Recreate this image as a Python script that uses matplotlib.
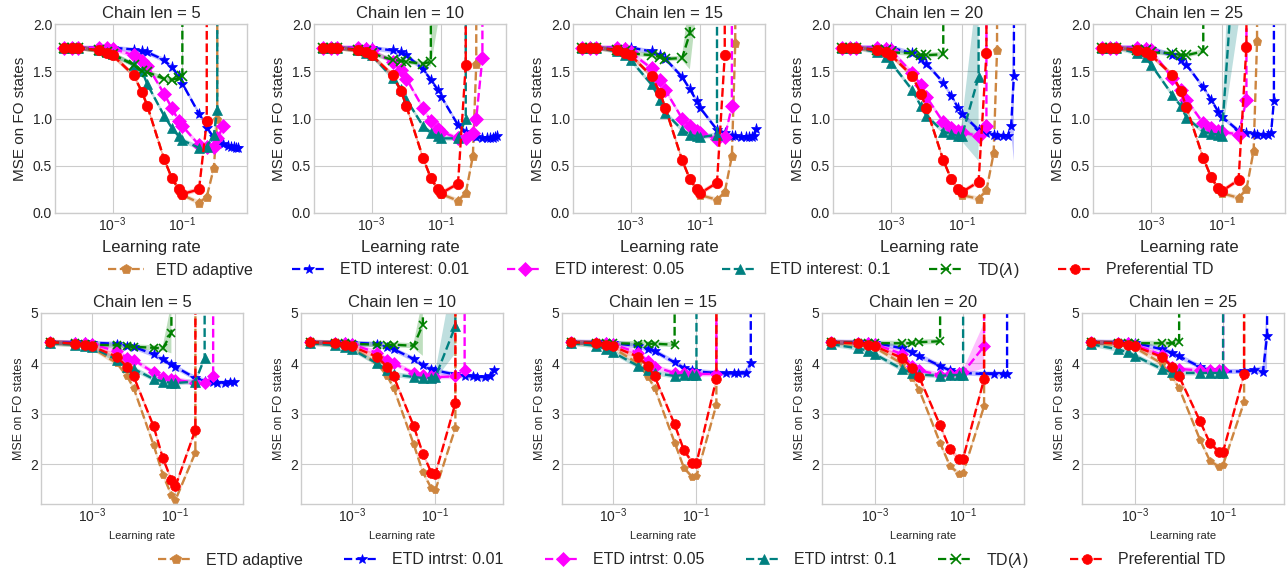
import matplotlib
matplotlib.use('Agg')
import matplotlib.pyplot as plt
from matplotlib.lines import Line2D

D = 1e3  # run diverged, value far above the plotted range

chain_lens = [5, 10, 15, 20, 25]

top_lr = [4e-5, 7e-5, 1e-4, 4e-4, 7e-4, 1e-3, 4e-3, 7e-3, 1e-2, 3e-2, 5e-2, 8e-2, 1e-1,
          3e-1, 5e-1, 8e-1, 1.0, 1.5, 2.0, 2.5, 3.0, 3.5, 4.0]
bottom_lr = [1e-4, 4e-4, 7e-4, 1e-3, 4e-3, 7e-3, 1e-2, 3e-2, 5e-2, 8e-2, 1e-1,
             3e-1, 5e-1, 8e-1, 1.0, 1.5, 2.0, 2.5]

# ---- top row: one list per chain length ----
top_adaptive = [
    [1.75, 1.75, 1.75, 1.72, 1.69, 1.67, 1.46, 1.28, 1.13, 0.57, 0.37, 0.24, 0.19, 0.11, 0.17, 0.48, 1.00, D],
    [1.75, 1.75, 1.75, 1.72, 1.70, 1.67, 1.46, 1.29, 1.13, 0.58, 0.37, 0.24, 0.20, 0.13, 0.21, 0.60, 1.58, D],
    [1.75, 1.75, 1.75, 1.72, 1.69, 1.67, 1.45, 1.27, 1.11, 0.56, 0.36, 0.24, 0.19, 0.14, 0.22, 0.60, 1.80, D],
    [1.75, 1.75, 1.75, 1.72, 1.70, 1.67, 1.45, 1.26, 1.11, 0.56, 0.36, 0.24, 0.19, 0.15, 0.24, 0.63, 1.73, D],
    [1.75, 1.75, 1.75, 1.72, 1.70, 1.67, 1.46, 1.29, 1.12, 0.58, 0.38, 0.25, 0.21, 0.16, 0.25, 0.66, 1.82, D],
]
top_int001 = [
    [1.75, 1.75, 1.75, 1.75, 1.75, 1.75, 1.73, 1.71, 1.70, 1.62, 1.54, 1.45, 1.37, 1.05, 0.90, 0.80, 0.76, 0.73, 0.71, 0.70, 0.70, 0.69, 0.69],
    [1.75, 1.75, 1.75, 1.75, 1.75, 1.75, 1.72, 1.70, 1.67, 1.52, 1.41, 1.30, 1.23, 0.93, 0.86, 0.82, 0.80, 0.79, 0.79, 0.79, 0.79, 0.80, 0.82],
    [1.75, 1.75, 1.75, 1.75, 1.75, 1.75, 1.71, 1.67, 1.63, 1.44, 1.31, 1.18, 1.11, 0.88, 0.85, 0.82, 0.81, 0.80, 0.80, 0.80, 0.80, 0.82, 0.89],
    [1.75, 1.75, 1.75, 1.75, 1.75, 1.75, 1.69, 1.63, 1.58, 1.38, 1.24, 1.11, 1.05, 0.88, 0.85, 0.83, 0.82, 0.82, 0.81, 0.92, 1.45, D],
    [1.75, 1.75, 1.75, 1.75, 1.75, 1.74, 1.67, 1.62, 1.57, 1.33, 1.20, 1.07, 1.02, 0.87, 0.85, 0.84, 0.83, 0.83, 0.83, 0.85, 1.19, D],
]
top_int005 = [
    [1.75, 1.75, 1.75, 1.75, 1.75, 1.74, 1.67, 1.61, 1.56, 1.26, 1.11, 0.97, 0.92, 0.72, 0.70, 0.70, 0.79, 0.92],
    [1.75, 1.75, 1.75, 1.75, 1.74, 1.72, 1.60, 1.51, 1.42, 1.11, 0.97, 0.89, 0.86, 0.79, 0.79, 0.85, 1.00, 1.64, D],
    [1.75, 1.75, 1.75, 1.75, 1.74, 1.70, 1.53, 1.41, 1.30, 1.00, 0.92, 0.87, 0.85, 0.78, 0.80, 1.13, D],
    [1.75, 1.75, 1.75, 1.75, 1.74, 1.72, 1.48, 1.35, 1.23, 0.96, 0.90, 0.87, 0.86, 0.81, 0.92, D],
    [1.75, 1.75, 1.75, 1.75, 1.74, 1.72, 1.43, 1.30, 1.20, 0.95, 0.90, 0.87, 0.86, 0.83, 1.20, D],
]
top_int01 = [
    [1.75, 1.75, 1.75, 1.72, 1.70, 1.68, 1.57, 1.50, 1.36, 1.03, 0.90, 0.81, 0.77, 0.69, 0.70, 0.83, 1.09, D],
    [1.75, 1.75, 1.75, 1.72, 1.69, 1.67, 1.43, 1.31, 1.20, 0.92, 0.85, 0.81, 0.79, 0.79, 1.00, D],
    [1.75, 1.75, 1.75, 1.71, 1.67, 1.62, 1.36, 1.20, 1.06, 0.88, 0.83, 0.81, 0.80, 0.83, D],
    [1.75, 1.75, 1.75, 1.70, 1.65, 1.59, 1.30, 1.13, 1.03, 0.86, 0.84, 0.81, 0.81, 1.44, D],
    [1.75, 1.75, 1.75, 1.69, 1.65, 1.57, 1.25, 1.13, 1.01, 0.86, 0.84, 0.83, 0.81, 3.40, D],
]
top_td = [
    [1.75, 1.75, 1.75, 1.72, 1.70, 1.68, 1.57, 1.50, 1.49, 1.42, 1.41, 1.43, 1.45, D],
    [1.75, 1.75, 1.75, 1.73, 1.71, 1.69, 1.62, 1.61, 1.60, 1.58, 1.60, D],
    [1.75, 1.75, 1.75, 1.73, 1.71, 1.69, 1.67, 1.65, 1.63, 1.64, 1.90, D],
    [1.75, 1.75, 1.75, 1.73, 1.72, 1.70, 1.69, 1.67, 1.67, 1.68, D],
    [1.75, 1.75, 1.75, 1.73, 1.72, 1.70, 1.69, 1.67, 1.67, 1.71, D],
]
top_pref = [
    [1.75, 1.75, 1.75, 1.72, 1.69, 1.67, 1.46, 1.28, 1.13, 0.57, 0.37, 0.25, 0.20, 0.25, 0.97, D],
    [1.75, 1.75, 1.75, 1.72, 1.70, 1.67, 1.46, 1.29, 1.13, 0.58, 0.37, 0.25, 0.21, 0.31, 1.57, D],
    [1.75, 1.75, 1.75, 1.72, 1.69, 1.67, 1.45, 1.27, 1.11, 0.56, 0.36, 0.25, 0.21, 0.32, 1.67, D],
    [1.75, 1.75, 1.75, 1.72, 1.70, 1.67, 1.45, 1.26, 1.11, 0.56, 0.36, 0.25, 0.22, 0.33, 1.69, D],
    [1.75, 1.75, 1.75, 1.72, 1.70, 1.67, 1.46, 1.29, 1.12, 0.58, 0.38, 0.26, 0.23, 0.35, 1.76, D],
]

# ---- bottom row ----
bottom_adaptive = [
    [4.40, 4.37, 4.35, 4.31, 4.00, 3.74, 3.51, 2.38, 1.79, 1.39, 1.29, 2.23, D],
    [4.40, 4.37, 4.35, 4.31, 4.00, 3.75, 3.51, 2.40, 1.84, 1.52, 1.49, 2.72, D],
    [4.40, 4.37, 4.35, 4.31, 4.00, 3.73, 3.51, 2.43, 1.93, 1.74, 1.76, 3.18, D],
    [4.40, 4.37, 4.35, 4.31, 4.00, 3.71, 3.48, 2.42, 1.97, 1.81, 1.83, 3.15, D],
    [4.40, 4.37, 4.35, 4.31, 4.00, 3.73, 3.51, 2.48, 2.07, 1.95, 1.99, 3.23, D],
]
bottom_int001 = [
    [4.42, 4.42, 4.42, 4.41, 4.39, 4.35, 4.33, 4.18, 4.08, 3.98, 3.93, 3.71, 3.66, 3.63, 3.62, 3.62, 3.63, 3.64],
    [4.42, 4.42, 4.42, 4.41, 4.39, 4.33, 4.28, 4.09, 3.97, 3.89, 3.86, 3.78, 3.75, 3.74, 3.73, 3.73, 3.75, 3.87],
    [4.42, 4.42, 4.42, 4.41, 4.34, 4.28, 4.24, 4.02, 3.91, 3.86, 3.84, 3.81, 3.80, 3.80, 3.80, 3.80, 4.00, D],
    [4.42, 4.42, 4.42, 4.41, 4.30, 4.22, 4.15, 3.95, 3.86, 3.82, 3.81, 3.79, 3.79, 3.79, 3.79, D],
    [4.42, 4.42, 4.42, 4.41, 4.28, 4.21, 4.14, 3.93, 3.86, 3.86, 3.84, 3.84, 3.86, 3.82, 4.54, D],
]
bottom_int005 = [
    [4.42, 4.41, 4.40, 4.38, 4.24, 4.11, 4.07, 3.82, 3.73, 3.69, 3.68, 3.61, 3.61, 3.74, D],
    [4.42, 4.41, 4.40, 4.38, 4.21, 4.07, 4.00, 3.81, 3.76, 3.74, 3.73, 3.74, 3.87, D],
    [4.42, 4.41, 4.40, 4.38, 4.21, 4.04, 3.93, 3.81, 3.80, 3.79, 3.79, 3.79, D],
    [4.42, 4.41, 4.40, 4.38, 4.19, 3.95, 3.86, 3.77, 3.79, 3.81, 3.82, 4.34, D],
    [4.42, 4.41, 4.40, 4.37, 4.17, 3.93, 3.89, 3.86, 3.86, 3.86, 3.86, D],
]
bottom_int01 = [
    [4.40, 4.37, 4.35, 4.32, 4.07, 3.93, 3.89, 3.69, 3.64, 3.61, 3.61, 3.64, 4.11, D],
    [4.40, 4.36, 4.32, 4.28, 4.00, 3.87, 3.78, 3.73, 3.71, 3.71, 3.73, 4.74, D],
    [4.40, 4.35, 4.28, 4.22, 3.95, 3.86, 3.81, 3.75, 3.77, 3.77, 3.77, D],
    [4.38, 4.30, 4.25, 4.18, 3.89, 3.81, 3.78, 3.75, 3.77, 3.77, 3.77, D],
    [4.38, 4.28, 4.22, 4.15, 3.89, 3.82, 3.81, 3.81, 3.81, 3.81, 3.81, D],
]
bottom_td = [
    [4.42, 4.40, 4.39, 4.37, 4.36, 4.34, 4.33, 4.31, 4.30, 4.60, D],
    [4.42, 4.41, 4.40, 4.39, 4.37, 4.37, 4.37, 4.35, 4.77, D],
    [4.42, 4.41, 4.40, 4.40, 4.39, 4.39, 4.39, 4.37, D],
    [4.42, 4.41, 4.40, 4.40, 4.40, 4.40, 4.42, 4.44, D],
    [4.42, 4.41, 4.40, 4.40, 4.40, 4.40, 4.42, D],
]
bottom_pref = [
    [4.42, 4.39, 4.37, 4.34, 4.13, 3.93, 3.74, 2.75, 2.12, 1.69, 1.56, 2.68, D],
    [4.42, 4.40, 4.37, 4.34, 4.13, 3.93, 3.74, 2.76, 2.21, 1.83, 1.81, 3.21, D],
    [4.42, 4.40, 4.37, 4.34, 4.13, 3.94, 3.74, 2.79, 2.28, 2.03, 2.02, 3.69, D],
    [4.42, 4.40, 4.37, 4.34, 4.11, 3.91, 3.73, 2.77, 2.30, 2.11, 2.11, 3.69, D],
    [4.42, 4.40, 4.37, 4.34, 4.13, 3.93, 3.74, 2.85, 2.42, 2.25, 2.25, 3.78, D],
]

# wide spread bands: (panel, series, point, low, high)
top_bands = [
    (0, 2, 17, 0.85, 1.00),
    (1, 4, 10, 1.55, 1.66), (1, 4, 11, 2.0, 3 * D),
    (2, 4, 10, 1.52, 2.3), (2, 4, 11, 2.2, 3 * D),
    (3, 3, 12, 0.76, 0.95), (3, 3, 13, 0.55, 2.5),
    (3, 1, 19, 0.85, 1.0), (3, 1, 20, 0.55, 2.3),
    (4, 3, 12, 0.78, 0.9), (4, 3, 13, 2.0, 5.0),
]
bottom_bands = [
    (0, 4, 9, 4.2, 5.2),
    (1, 4, 8, 4.15, 5.3),
    (1, 3, 10, 3.68, 3.85), (1, 3, 11, 4.2, 6.0),
    (2, 1, 15, 3.76, 3.88), (2, 1, 16, 3.85, 4.1),
    (3, 2, 10, 3.78, 3.88), (3, 2, 11, 3.9, 4.8),
    (4, 1, 13, 3.78, 3.95), (4, 1, 14, 3.9, 5.2),
]

top_labels = ['ETD adaptive', 'ETD interest: 0.01', 'ETD interest: 0.05',
              'ETD interest: 0.1', r'TD($\lambda$)', 'Preferential TD']
bottom_labels = ['ETD adaptive', 'ETD intrst: 0.01', 'ETD intrst: 0.05',
                 'ETD intrst: 0.1', r'TD($\lambda$)', 'Preferential TD']

colors = ['peru', 'blue', 'magenta', 'teal', 'green', 'red']
markers = ['p', '*', 'D', '^', 'x', 'o']

plt.style.use('seaborn-v0_8-whitegrid')
plt.rcParams['font.family'] = ['Liberation Sans', 'DejaVu Sans']

fig = plt.figure(figsize=(12.88, 5.75), dpi=100)
W, H = 1288.0, 575.0


def draw_row(lefts, width, top, bottom, lr, series, bands, halo, ylim, yticks,
             msizes, fs):
    axes = []
    for p, left in enumerate(lefts):
        ax = fig.add_axes([left / W, 1 - bottom / H, width / W, (bottom - top) / H])
        for s, data in enumerate(series):
            vals = data[p]
            x = lr[:len(vals)]
            lo = [v - halo for v in vals]
            hi = [v + halo for v in vals]
            for (bp, bs, bi, bl, bh) in bands:
                if bp == p and bs == s:
                    lo[bi] = bl
                    hi[bi] = bh
            ax.fill_between(x, lo, hi, color=colors[s], alpha=0.25, lw=0)
            ax.plot(x, vals, ls='--', lw=1.7, color=colors[s], marker=markers[s],
                    ms=msizes[s], mew=1.2 if markers[s] == 'x' else 0.5)
        ax.set_xscale('log')
        ax.set_xticks([1e-3, 1e-1])
        ax.minorticks_off()
        ax.set_ylim(*ylim)
        ax.set_yticks(yticks)
        ax.tick_params(labelsize=fs['tick'], pad=2)
        ax.set_title('Chain len = %d' % chain_lens[p], fontsize=fs['title'], pad=4)
        ax.set_xlabel('Learning rate', fontsize=fs['xlabel'])
        ax.set_ylabel('MSE on FO states', fontsize=fs['ylabel'])
        for sp in ax.spines.values():
            sp.set_color('#cccccc')
        axes.append(ax)
    return axes


draw_row([55, 314, 573, 833, 1093], 192, 24, 213, top_lr,
         [top_adaptive, top_int001, top_int005, top_int01, top_td, top_pref],
         top_bands, 0.025, (0.0, 2.0), [0.0, 0.5, 1.0, 1.5, 2.0],
         [6.5, 8, 7, 7.5, 7, 7.5],
         {'tick': 10, 'title': 12, 'xlabel': 12, 'ylabel': 11})

draw_row([41, 301, 562, 822, 1082], 202, 313, 504, bottom_lr,
         [bottom_adaptive, bottom_int001, bottom_int005, bottom_int01, bottom_td, bottom_pref],
         bottom_bands, 0.05, (1.21, 5.0), [2, 3, 4, 5],
         [6, 7, 6.5, 6.5, 6, 7],
         {'tick': 10, 'title': 12, 'xlabel': 8, 'ylabel': 9})


def legend_handles(labels):
    return [Line2D([], [], ls='--', lw=1.6, color=c, marker=m, ms=7,
                   mew=1.2 if m == 'x' else 0.5, label=l)
            for c, m, l in zip(colors, markers, labels)]


fig.legend(handles=legend_handles(top_labels), loc='center', ncol=6,
           bbox_to_anchor=(0.513, 1 - 270 / H), frameon=False, fontsize=11.5,
           columnspacing=2.4, handlelength=2.2)
fig.legend(handles=legend_handles(bottom_labels), loc='center', ncol=6,
           bbox_to_anchor=(0.537, 1 - 560 / H), frameon=False, fontsize=11.5,
           columnspacing=2.6, handlelength=2.2)

fig.savefig('out.png', dpi=100)
